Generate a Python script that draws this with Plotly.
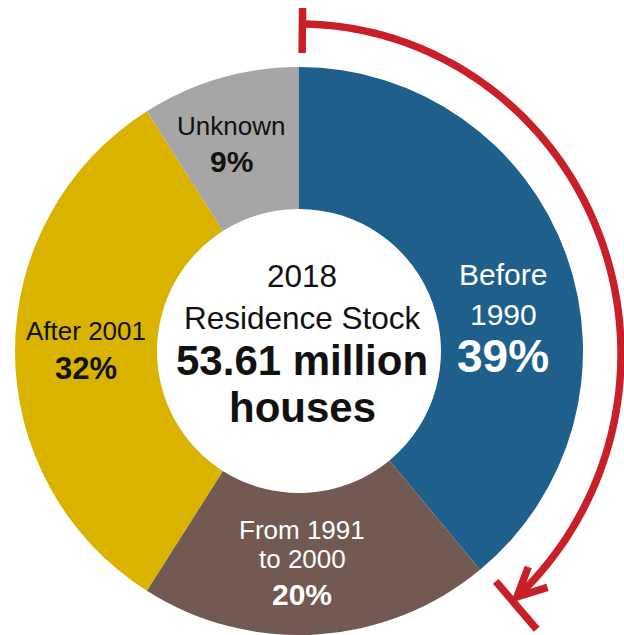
import numpy as np
import plotly.graph_objects as go

# ---- data -------------------------------------------------------------
categories = ["Before 1990", "From 1991 to 2000", "After 2001", "Unknown"]
shares = [39, 20, 32, 9]
label_lines = [["Before", "1990"], ["From 1991", "to 2000"], ["After 2001"], ["Unknown"]]
stock_year = 2018
stock_total_million = 53.61

# ---- style ------------------------------------------------------------
W, H = 624, 635
FONT = "Liberation Sans, Arial, Helvetica, sans-serif"
slice_colors = ["#1f5f8b", "#725a53", "#d9b300", "#a6a6a6"]
text_colors = ["white", "white", "#111111", "#111111"]
RED = "#c91f28"

# donut geometry (pixels, y measured from top)
PIE_CX, PIE_CY, PIE_R = 299, 351, 284

# label placement per slice: x centre, baselines of name lines, baseline of percent, sizes
label_style = [
    dict(x=503, name_base=[285, 325], name_size=30, pct_base=372, pct_size=46),
    dict(x=302, name_base=[539, 568], name_size=26, pct_base=605, pct_size=30),
    dict(x=86, name_base=[340], name_size=26, pct_base=379, pct_size=31),
    dict(x=231, name_base=[135], name_size=26, pct_base=172, pct_size=30),
]


def text_ann(x, baseline, s, size, bold=False, color="#111111"):
    return dict(
        x=x, y=baseline - 0.35 * size, xref="x", yref="y",
        text=f"<b>{s}</b>" if bold else s, showarrow=False,
        xanchor="center", yanchor="middle",
        font=dict(family=FONT, size=size, color=color),
    )


fig = go.Figure()

# empty trace so the pixel-space x/y axes exist for shapes and annotations
fig.add_trace(go.Scatter(x=[], y=[], hoverinfo="skip", showlegend=False))

fig.add_trace(go.Pie(
    labels=categories, values=shares, sort=False, direction="clockwise",
    rotation=0, hole=0.5, textinfo="none", hoverinfo="label+percent",
    marker=dict(colors=slice_colors, line=dict(width=0)),
    domain=dict(
        x=[(PIE_CX - PIE_R) / W, (PIE_CX + PIE_R) / W],
        y=[(H - PIE_CY - PIE_R) / H, (H - PIE_CY + PIE_R) / H],
    ),
    showlegend=False,
))

annotations = []
for lines, share, st, col in zip(label_lines, shares, label_style, text_colors):
    for line, base in zip(lines, st["name_base"]):
        annotations.append(text_ann(st["x"], base, line, st["name_size"], False, col))
    annotations.append(text_ann(st["x"], st["pct_base"], f"{share}%", st["pct_size"], True, col))

# centre caption
annotations += [
    text_ann(302, 287, str(stock_year), 31.5),
    text_ann(302, 329, "Residence Stock", 31.5),
    text_ann(302, 375, f"{stock_total_million:.2f} million", 42, bold=True),
    text_ann(302, 422, "houses", 42, bold=True),
]

# ---- red arrow spanning the oldest stock ------------------------------
ARC_CX, ARC_CY, ARC_A, ARC_B = 299, 354, 322, 330
end_deg = shares[0] / sum(shares) * 360.0
LW = 7.5


def arc_pt(t_deg):
    t = np.radians(t_deg)
    return ARC_CX + ARC_A * np.sin(t), ARC_CY - ARC_B * np.cos(t)


def radial_seg(phi_deg, r_in, r_out):
    p = np.radians(phi_deg)
    ux, uy = np.sin(p), -np.cos(p)
    return (PIE_CX + r_in * ux, PIE_CY + r_in * uy, PIE_CX + r_out * ux, PIE_CY + r_out * uy)


t_start, t_tip = 0.5, end_deg - 3.0
ts = np.linspace(t_start, t_tip, 160)
xs, ys = arc_pt(ts)
arc_path = "M " + " L ".join(f"{x:.2f},{y:.2f}" for x, y in zip(xs, ys))

# arrowhead wings from the tangent at the tip
tx, ty = arc_pt(t_tip)
t = np.radians(t_tip)
dx, dy = ARC_A * np.cos(t), ARC_B * np.sin(t)          # direction of travel
n = np.hypot(dx, dy)
bx, by = -dx / n, -dy / n                              # pointing back along the arc
wing_len, wing_ang = 32, np.radians(26)
wings = []
for s in (1, -1):
    c, sn = np.cos(s * wing_ang), np.sin(s * wing_ang)
    wx, wy = bx * c - by * sn, bx * sn + by * c
    wings.append((tx + wing_len * wx, ty + wing_len * wy))
head_path = f"M {wings[0][0]:.2f},{wings[0][1]:.2f} L {tx:.2f},{ty:.2f} L {wings[1][0]:.2f},{wings[1][1]:.2f}"

shapes = [
    dict(type="path", path=arc_path, xref="x", yref="y", line=dict(color=RED, width=LW), layer="above"),
    dict(type="path", path=head_path, xref="x", yref="y", line=dict(color=RED, width=LW), layer="above"),
]
for phi, r_in, r_out in [(0.6, 298, 343), (end_deg - 0.9, 303, 366)]:
    x0, y0, x1, y1 = radial_seg(phi, r_in, r_out)
    shapes.append(dict(type="line", x0=x0, y0=y0, x1=x1, y1=y1, xref="x", yref="y",
                       line=dict(color=RED, width=LW), layer="above"))

fig.update_layout(
    width=W, height=H, autosize=False,
    margin=dict(l=0, r=0, t=0, b=0),
    paper_bgcolor="white", plot_bgcolor="rgba(0,0,0,0)",
    xaxis=dict(range=[0, W], visible=False, fixedrange=True),
    yaxis=dict(range=[H, 0], visible=False, fixedrange=True),
    annotations=annotations, shapes=shapes,
)

fig.write_html("out.html")
